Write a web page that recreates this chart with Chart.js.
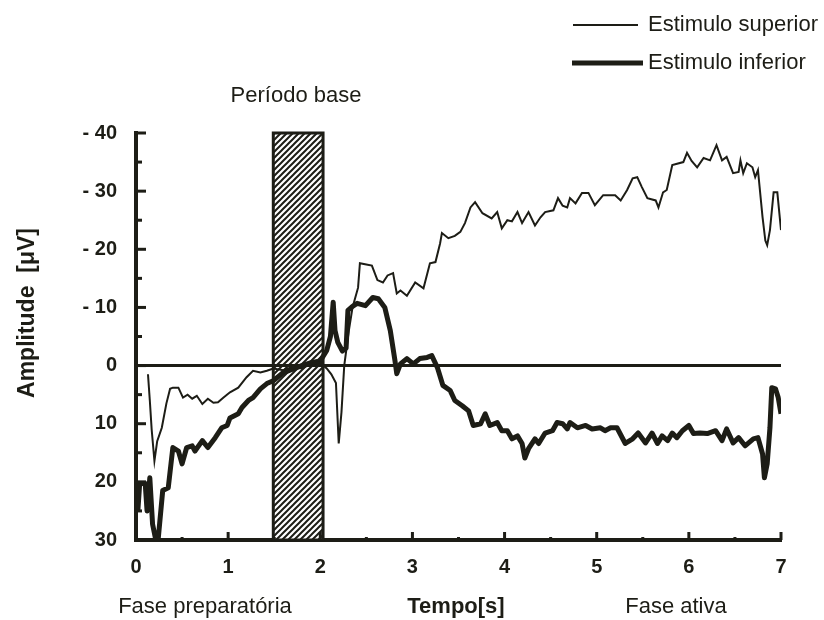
<!DOCTYPE html>
<html>
<head>
<meta charset="utf-8">
<script src="https://cdn.jsdelivr.net/npm/chart.js@4/dist/chart.umd.min.js"></script>
<style>
  body { margin: 0; background: #fff; }
  canvas { display: block; }
</style>
</head>
<body>
<canvas id="amplitude-chart" width="824" height="620"></canvas>
<script>
// Estimulo superior (thin trace): time [s] and amplitude [uV]
const supTime = [0.13, 0.15, 0.17, 0.2, 0.23, 0.28, 0.33, 0.37, 0.4, 0.46, 0.51, 0.56, 0.61, 0.66, 0.72, 0.78, 0.84, 0.89, 0.95, 1.02,
  1.11, 1.2, 1.27, 1.35, 1.42, 1.49, 1.6, 1.7, 1.8, 1.9, 2.0, 2.07, 2.12, 2.17, 2.2, 2.23, 2.26, 2.31, 2.35, 2.41,
  2.43, 2.5, 2.56, 2.62, 2.68, 2.73, 2.79, 2.83, 2.87, 2.94, 3.03, 3.12, 3.19, 3.25, 3.3, 3.32, 3.39, 3.46, 3.52, 3.57,
  3.63, 3.68, 3.76, 3.86, 3.92, 3.97, 4.03, 4.08, 4.14, 4.19, 4.26, 4.33, 4.39, 4.44, 4.53, 4.58, 4.63, 4.68, 4.71, 4.77,
  4.84, 4.91, 4.98, 5.07, 5.2, 5.26, 5.33, 5.39, 5.44, 5.49, 5.55, 5.64, 5.67, 5.72, 5.76, 5.82, 5.94, 5.98, 6.03, 6.09,
  6.16, 6.23, 6.3, 6.36, 6.41, 6.48, 6.54, 6.56, 6.59, 6.63, 6.69, 6.72, 6.75, 6.8, 6.83, 6.85, 6.88, 6.92, 6.96, 7.0];
const supAmp = [1.5, 6, 11, 16.4, 13, 10.7, 6.5, 4, 3.8, 3.8, 5.5, 5, 5.7, 5.2, 6.6, 5.7, 6.4, 6.3, 5.5, 4.6,
  3.8, 2.0, 0.9, 1.2, 0.9, 0.5, 0.8, 0.2, 0.5, -0.3, -0.5, 0.5, 1.5, 3, 13.4, 8, 0, -6, -10, -13.4,
  -17.6, -17.4, -17.2, -14.7, -14.3, -15.5, -15.9, -12.4, -12.9, -12, -14.3, -13.3, -17.6, -17.8, -21, -22.8, -21.9, -22.3, -23, -24.5,
  -27.2, -28.1, -26.2, -25.3, -26.4, -23.6, -25, -24.8, -26.4, -24.5, -26.4, -24.1, -25.5, -26.4, -26.7, -28.8, -27.5, -27.2, -28.8, -27.9,
  -29.7, -29.7, -27.6, -29.3, -29.3, -28.4, -30.2, -32.2, -32.4, -30.7, -28.8, -28.4, -27.2, -29.8, -30.2, -34.5, -35, -36.6, -35.2, -34.1,
  -35.7, -35.3, -37.9, -35.3, -35.9, -33.1, -33.3, -35.3, -33.1, -34.8, -34.1, -32.4, -33.6, -25.5, -21.5, -20.7, -23.3, -29.8, -29.8, -23.3];

// Estimulo inferior (thick trace)
const infTime = [0.02, 0.04, 0.1, 0.12, 0.15, 0.18, 0.21, 0.24, 0.29, 0.35, 0.4, 0.46, 0.5, 0.55, 0.61, 0.64, 0.72, 0.78, 0.86, 0.93,
  0.99, 1.02, 1.11, 1.15, 1.22, 1.27, 1.35, 1.42, 1.49, 1.6, 1.7, 1.8, 1.9, 2.0, 2.07, 2.11, 2.14, 2.16, 2.19, 2.24,
  2.28, 2.3, 2.35, 2.4, 2.49, 2.57, 2.63, 2.7, 2.76, 2.81, 2.83, 2.87, 2.94, 3.01, 3.08, 3.16, 3.21, 3.27, 3.33, 3.41,
  3.46, 3.54, 3.61, 3.66, 3.74, 3.79, 3.84, 3.92, 3.97, 4.03, 4.08, 4.14, 4.19, 4.22, 4.26, 4.33, 4.37, 4.44, 4.52, 4.57,
  4.63, 4.68, 4.71, 4.79, 4.88, 4.95, 5.04, 5.09, 5.15, 5.22, 5.31, 5.39, 5.45, 5.53, 5.6, 5.66, 5.71, 5.77, 5.82, 5.87,
  5.93, 6.0, 6.05, 6.12, 6.2, 6.29, 6.36, 6.41, 6.48, 6.54, 6.61, 6.7, 6.75, 6.8, 6.82, 6.85, 6.88, 6.9, 6.94, 6.97, 7.0];
const infAmp = [25, 20.3, 20.3, 25, 19.3, 27.3, 29.6, 30, 21.5, 21, 14.1, 14.7, 16.9, 14.1, 13.8, 14.7, 12.9, 14.1, 12.4, 10.7,
  10.3, 9, 8.3, 7.2, 6, 5.5, 4, 3.1, 2.6, 1.2, 0.6, 0, -0.5, -0.8, -2.6, -5, -10.9, -6, -4, -2.5,
  -3, -9.5, -10.2, -10.7, -10.3, -11.7, -11.5, -10, -6, -0.9, 1.4, -0.3, -1.2, -0.3, -1.2, -1.4, -1.7, 0.3, 3.4, 4.3,
  6, 6.9, 7.8, 10.3, 10, 8.3, 10.3, 9.8, 11.2, 11.2, 12.6, 12.1, 13.4, 15.9, 14.3, 12.6, 13.4, 11.6, 11.2, 9.8,
  10, 10.9, 9.8, 10.7, 10.3, 10.9, 10.7, 11.2, 10.7, 10.7, 13.4, 12.6, 11.6, 13.3, 11.6, 13.4, 12.1, 12.9, 11.6, 12.4,
  11.2, 10.3, 11.7, 11.6, 11.7, 11.2, 12.9, 10.9, 13.3, 12.4, 13.8, 12.6, 12.4, 15.2, 19.3, 16.9, 10.7, 3.8, 4, 5.5, 8.3];

// baseline window (seconds) and axis ranges
const baseWindow = [1.49, 2.03];
const timeRange = [0, 7];
const ampRange = [-40, 30];

const ink = "#1d1d16";
const family = "'Liberation Sans', Arial, Helvetica, sans-serif";

const toPoints = (xs, ys) => xs.map((x, i) => ({ x: x, y: ys[i] }));

// hatch pattern for the baseline box
function makeHatch() {
  const s = 6;
  const c = document.createElement("canvas");
  c.width = s;
  c.height = s;
  const g = c.getContext("2d");
  g.fillStyle = "#fff";
  g.fillRect(0, 0, s, s);
  g.strokeStyle = ink;
  g.lineWidth = 2;
  g.beginPath();
  g.moveTo(-1, s + 1); g.lineTo(s + 1, -1);
  g.moveTo(-1, 1); g.lineTo(1, -1);
  g.moveTo(s - 1, s + 1); g.lineTo(s + 1, s - 1);
  g.stroke();
  return c;
}

const decorations = {
  id: "decorations",
  beforeDatasetsDraw(chart) {
    const { ctx, scales: { x, y } } = chart;
    const left = x.getPixelForValue(baseWindow[0]);
    const right = x.getPixelForValue(baseWindow[1]);
    const top = y.getPixelForValue(ampRange[0]);
    const bottom = y.getPixelForValue(ampRange[1]);
    ctx.save();
    ctx.fillStyle = ctx.createPattern(makeHatch(), "repeat");
    ctx.fillRect(left, top, right - left, bottom - top);
    ctx.strokeStyle = ink;
    ctx.lineWidth = 3;
    ctx.strokeRect(left, top, right - left, bottom - top);
    ctx.restore();
  },
  afterDraw(chart) {
    const { ctx, scales: { x, y } } = chart;
    ctx.save();
    ctx.strokeStyle = ink;
    ctx.lineCap = "butt";

    // inward tick marks on both axes
    ctx.lineWidth = 3;
    for (let v = ampRange[0]; v <= ampRange[1]; v += 5) {
      const py = y.getPixelForValue(v);
      const len = v % 10 === 0 ? 10 : 6;
      ctx.beginPath();
      ctx.moveTo(x.left, py);
      ctx.lineTo(x.left + len, py);
      ctx.stroke();
    }
    for (let t = timeRange[0]; t <= timeRange[1]; t += 0.5) {
      const px = x.getPixelForValue(t);
      const len = t % 1 === 0 ? 8 : 3;
      ctx.beginPath();
      ctx.moveTo(px, y.bottom);
      ctx.lineTo(px, y.bottom - len);
      ctx.stroke();
    }

    ctx.fillStyle = ink;
    ctx.textBaseline = "middle";
    ctx.textAlign = "center";

    // labels above and below the plot
    ctx.font = "22px " + family;
    ctx.fillText("Período base", 296, 96);
    ctx.fillText("Fase preparatória", 205, 607);
    ctx.fillText("Fase ativa", 676, 607);
    ctx.font = "bold 22px " + family;
    ctx.fillText("Tempo[s]", 456, 607);

    ctx.save();
    ctx.translate(28, 313);
    ctx.rotate(-Math.PI / 2);
    ctx.font = "bold 23px " + family;
    ctx.fillText("Amplitude  [μV]", 0, 0);
    ctx.restore();

    // legend with each trace's own line width
    const legendRows = [
      { ds: chart.data.datasets[0], x0: 573, x1: 638, y: 25 },
      { ds: chart.data.datasets[1], x0: 572, x1: 643, y: 63 },
    ];
    ctx.font = "22px " + family;
    ctx.textAlign = "left";
    legendRows.forEach(r => {
      ctx.lineWidth = r.ds.borderWidth;
      ctx.beginPath();
      ctx.moveTo(r.x0, r.y);
      ctx.lineTo(r.x1, r.y);
      ctx.stroke();
      ctx.fillText(r.ds.label, 648, r.y);
    });
    ctx.restore();
  },
};

const ctx = document.getElementById("amplitude-chart").getContext("2d");

const chartData = {
  datasets: [
    {
      label: "Estimulo superior",
      data: toPoints(supTime, supAmp),
      borderColor: ink,
      borderWidth: 2,
      pointRadius: 0,
      tension: 0,
    },
    {
      label: "Estimulo inferior",
      data: toPoints(infTime, infAmp),
      borderColor: ink,
      borderWidth: 5,
      borderJoinStyle: "round",
      pointRadius: 0,
      tension: 0,
    },
    {
      label: "zero",
      data: toPoints(timeRange, [0, 0]),
      borderColor: ink,
      borderWidth: 3,
      pointRadius: 0,
    },
  ],
};

const chartOptions = {
  responsive: false,
  animation: false,
  layout: {
    padding: { top: 133, right: 43, left: 0, bottom: 0 },
  },
  plugins: {
    legend: { display: false },
    tooltip: { enabled: false },
  },
  scales: {
    x: {
      type: "linear",
      min: timeRange[0],
      max: timeRange[1],
      grid: { display: false, drawTicks: false },
      border: { display: true, width: 4, color: ink },
      ticks: {
        stepSize: 1,
        padding: 15,
        color: ink,
        font: { family: family, size: 20, weight: "bold" },
      },
      afterFit(scale) {
        scale.height = 80;
      },
    },
    y: {
      type: "linear",
      reverse: true,
      min: ampRange[0],
      max: ampRange[1],
      grid: { display: false, drawTicks: false },
      border: { display: true, width: 4, color: ink },
      ticks: {
        stepSize: 10,
        padding: 19,
        color: ink,
        font: { family: family, size: 20, weight: "bold" },
        callback: v => (v < 0 ? "- " + Math.abs(v) : String(v)),
      },
      afterFit(scale) {
        scale.width = 136;
      },
    },
  },
};

const amplitudeChart = new Chart(ctx, {
  type: "line",
  data: chartData,
  options: chartOptions,
  plugins: [decorations],
});
</script>
</body>
</html>
